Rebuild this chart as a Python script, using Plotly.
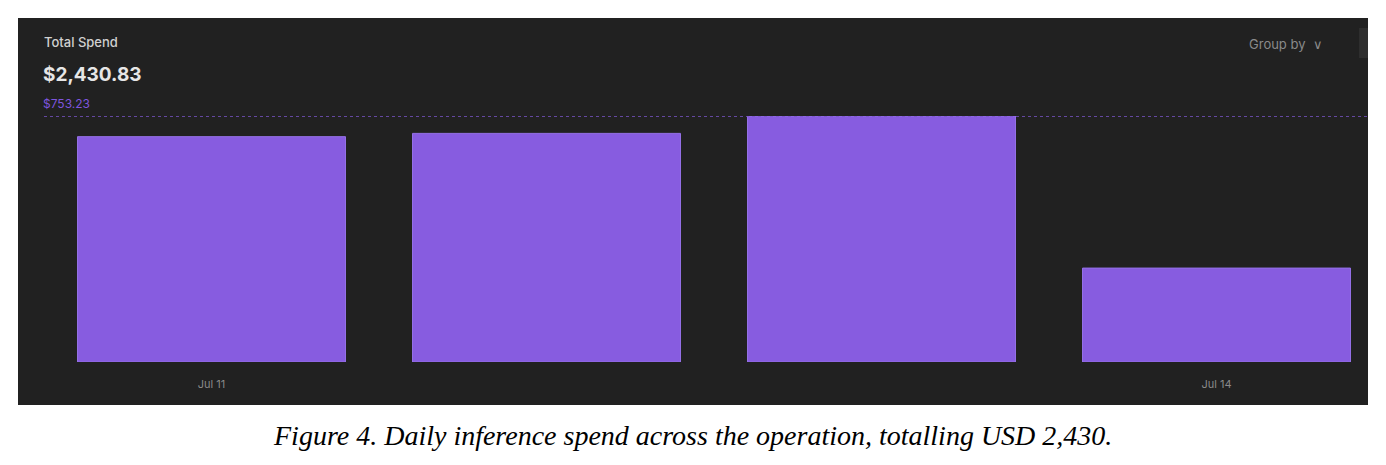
import plotly.graph_objects as go

days = ["Jul 11", "Jul 12", "Jul 13", "Jul 14"]
spend = [690.0, 700.0, 753.23, 287.6]
tick_vals = ["Jul 11", "Jul 14"]
total_label = "$2,430.83"
max_label = "$753.23"
caption = "Figure 4. Daily inference spend across the operation, totalling USD 2,430."

W, H = 1386, 465
OFF = 8  # page body margin
L, R, T, B = 44 - OFF, 18 + OFF, 116 - OFF, 103 + OFF
pw, ph = W - L - R, H - T - B
def px(x): return (x - OFF - L) / pw
def py(y): return (H - B - (y - OFF)) / ph

fig = go.Figure(go.Bar(x=days, y=spend, width=0.8,
                       marker=dict(color="#875ce0", line=dict(color="#9470e6", width=1)),
                       hoverinfo="skip"))

fig.update_layout(
    width=W, height=H, margin=dict(l=L, r=R, t=T, b=B),
    paper_bgcolor="white", plot_bgcolor="#212121", showlegend=False, bargap=0.2,
    xaxis=dict(type="category", range=[-0.5, -0.5 + pw / 335], tickvals=tick_vals,
               ticktext=tick_vals, showgrid=False, zeroline=False, showline=False,
               tickfont=dict(family="Inter", size=11, color="#8a8a8a"), ticks="",
               ticklabelstandoff=14),
    yaxis=dict(range=[0, 753.23], visible=False, showgrid=False),
    shapes=[
        dict(type="rect", xref="paper", yref="paper", x0=px(18), x1=px(1368),
             y0=py(405), y1=py(18), fillcolor="#212121", line_width=0, layer="below"),
        dict(type="line", xref="paper", yref="y", x0=px(44), x1=px(1368), y0=753.23, y1=753.23,
             line=dict(color="#7b55cc", width=1.5, dash="dot")),
    ],
    annotations=[
        dict(text="Total Spend", xref="paper", yref="paper", x=px(42), y=py(42), xanchor="left",
             yanchor="middle", showarrow=False, font=dict(family="Inter", size=13, color="#d0d0d0", weight=500)),
        dict(text="<b>" + total_label + "</b>", xref="paper", yref="paper", x=px(41), y=py(74), xanchor="left",
             yanchor="middle", showarrow=False, font=dict(family="Inter", size=19, color="#e6e6e6")),
        dict(text=max_label, xref="paper", yref="paper", x=px(41), y=py(104), xanchor="left",
             yanchor="middle", showarrow=False, font=dict(family="Inter", size=12, color="#7e55dd")),
        dict(text="Group by  \u2228", xref="paper", yref="paper", x=px(1325), y=py(44), xanchor="right",
             yanchor="middle", showarrow=False, font=dict(family="Inter", size=13, color="#8a8a8a")),
        dict(text="<i>" + caption + "</i>", xref="paper", yref="paper", x=px(692), y=py(435),
             xanchor="center", yanchor="middle", showarrow=False,
             font=dict(family="Liberation Serif", size=28, color="black")),
    ],
)
fig.add_shape(type="rect", xref="paper", yref="paper", x0=px(1359), x1=px(1368), y0=py(58),
              y1=py(28), fillcolor="#2e2e2e", line_width=0)
fig.write_html("out.html")
